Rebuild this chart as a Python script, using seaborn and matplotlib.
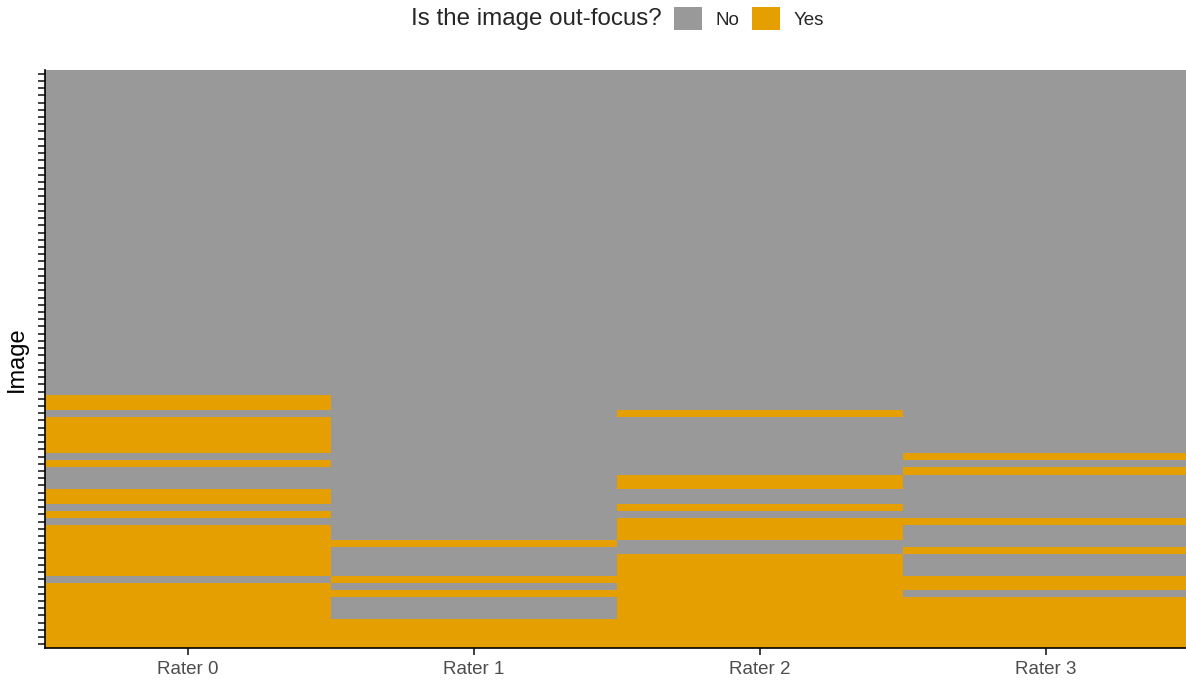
import numpy as np
import pandas as pd
import matplotlib
matplotlib.use("Agg")
import matplotlib.pyplot as plt
import seaborn as sns
from matplotlib.colors import ListedColormap
from matplotlib.patches import Patch

sns.set_style("white")
plt.rcParams["font.family"] = ["Liberation Sans", "DejaVu Sans"]

# images counted from the bottom of the chart (image 0 = bottom row)
n_images = 80
raters = ["Rater 0", "Rater 1", "Rater 2", "Rater 3"]
rater0_yes = [0, 1, 2, 3, 4, 5, 6, 7, 8, 10, 11, 12, 13, 14, 15, 16, 18, 20, 21,
              25, 27, 28, 29, 30, 31, 33, 34]
rater1_yes = [0, 1, 2, 3, 7, 9, 14]
rater2_yes = [0, 1, 2, 3, 4, 5, 6, 7, 8, 9, 10, 11, 12, 15, 16, 17, 19, 22, 23, 32]
rater3_yes = [0, 1, 2, 3, 4, 5, 6, 8, 9, 13, 17, 24, 26]
legend_labels = ["No", "Yes"]

col_no = "#999999"
col_yes = "#E69F00"

yes_lists = [rater0_yes, rater1_yes, rater2_yes, rater3_yes]
df = pd.DataFrame(0, index=range(n_images), columns=raters)
for r, yes in zip(raters, yes_lists):
    df.loc[yes, r] = 1
# top row of heatmap = highest image index
df = df.iloc[::-1]

fig = plt.figure(figsize=(11.86, 6.82), dpi=100)
ax = fig.add_axes([45 / 1186, 34 / 682, 1144 / 1186, 578 / 682])

sns.heatmap(df, cmap=ListedColormap([col_no, col_yes]), vmin=0, vmax=1,
            cbar=False, ax=ax, xticklabels=raters, yticklabels=False)

ax.set_yticks(np.arange(n_images) + 0.5)
ax.set_yticklabels([])
for s in ["left", "bottom"]:
    ax.spines[s].set_visible(True)
    ax.spines[s].set_color("black")
    ax.spines[s].set_linewidth(1.2)
ax.tick_params(axis="both", which="major", direction="out", length=5, width=1.3,
               color="#333333", left=True, bottom=True)
ax.tick_params(axis="x", labelsize=13.5, labelcolor="#4D4D4D", pad=4, rotation=0)
ax.set_xlabel("")
ax.set_ylabel("Image", fontsize=17, color="black", labelpad=4)

fig.text(662 / 1186, 1 - 19 / 682, "Is the image out-focus?", ha="right",
         va="center", fontsize=17.4)
handles = [Patch(facecolor=col_no, edgecolor="none"),
           Patch(facecolor=col_yes, edgecolor="none")]
fig.legend(handles, legend_labels, loc="center left",
           bbox_to_anchor=(674 / 1186, 1 - 18.5 / 682), ncol=2, frameon=False,
           fontsize=13.5, handlelength=1.5, handleheight=1.5, handletextpad=0.7,
           columnspacing=0.7, borderpad=0, borderaxespad=0)

fig.savefig("out.png", dpi=100)
